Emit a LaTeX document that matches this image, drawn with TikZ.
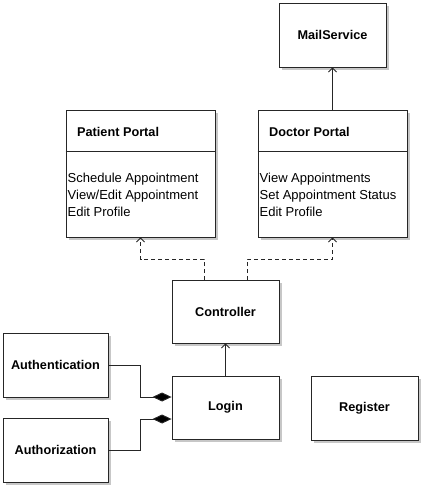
\documentclass[tikz,border=0pt]{standalone}
\usepackage{fontspec}
\setmainfont{Liberation Sans}
\usetikzlibrary{shadows,arrows.meta}
\begin{document}
\begin{tikzpicture}[x=1pt,y=-1pt,
  box/.style={draw=black!85, line width=0.9pt, fill=white, rectangle, inner sep=0pt,
    general shadow={fill=black!22, shadow xshift=3pt, shadow yshift=-3pt}},
  title/.style={font=\fontsize{12.7}{15}\selectfont\bfseries},
  item/.style={font=\fontsize{13}{17}\selectfont, align=left, anchor=north west, inner sep=0pt},
  conn/.style={draw=black!85, line width=0.9pt},
  dep/.style={conn, dashed, dash pattern=on 4pt off 3pt, -{Straight Barb[length=4pt,width=8pt,line width=0.9pt]}},
  assoc/.style={conn, -{Straight Barb[length=4pt,width=8pt,line width=0.9pt]}},
  comp/.style={conn, -{Diamond[length=19pt,width=9pt,fill=black]}}]
\useasboundingbox (0,0) rectangle (427,491);
% boxes
\node[box, minimum width=107pt, minimum height=64pt, title] (mail) at (332.5,35) {MailService};
\node[box, minimum width=149pt, minimum height=127pt] (patient) at (140.5,173.5) {};
\node[box, minimum width=149pt, minimum height=127pt] (doctor) at (332.5,173.5) {};
\node[box, minimum width=107pt, minimum height=63pt, title] (ctrl) at (225.5,311.5) {Controller};
\node[box, minimum width=107pt, minimum height=63pt, title] (login) at (225.5,407.5) {Login};
\node[box, minimum width=107pt, minimum height=64pt, title] (register) at (364.5,408) {Register};
\node[box, minimum width=105pt, minimum height=64pt, title] (authn) at (55.5,365) {Authentication};
\node[box, minimum width=105pt, minimum height=64pt, title] (authz) at (55.5,450) {Authorization};
% portal compartments
\draw[conn] (patient.north west) ++(0,42) coordinate (pdl) -- (pdl -| patient.east);
\draw[conn] (doctor.north west) ++(0,42) coordinate (ddl) -- (ddl -| doctor.east);
\node[title, anchor=west, inner sep=0pt] (ptitle) at (77,131.5) {Patient Portal};
\node[title, anchor=west, inner sep=0pt] (dtitle) at (269,131.5) {Doctor Portal};
\node[item] (pitems) at (67.5,172.5) {Schedule Appointment\\View/Edit Appointment\\Edit Profile};
\node[item] (ditems) at (259.5,172.5) {View Appointments\\Set Appointment Status\\Edit Profile};
% connectors
\coordinate (cl) at (204,280);
\coordinate (cr) at (247,280);
\draw[dep] (cl) -- (204,259) -| (patient.south);
\draw[dep] (cr) -- (247,259) -| (doctor.south);
\draw[assoc] (doctor.north) -- (mail.south);
\draw[assoc] (login.north) -- (ctrl.south);
\draw[comp] (authn.east) -- (140,365) |- (login.west |- 0,397);
\draw[comp] (authz.east) -- (140,450) |- (login.west |- 0,419);
\end{tikzpicture}
\end{document}
